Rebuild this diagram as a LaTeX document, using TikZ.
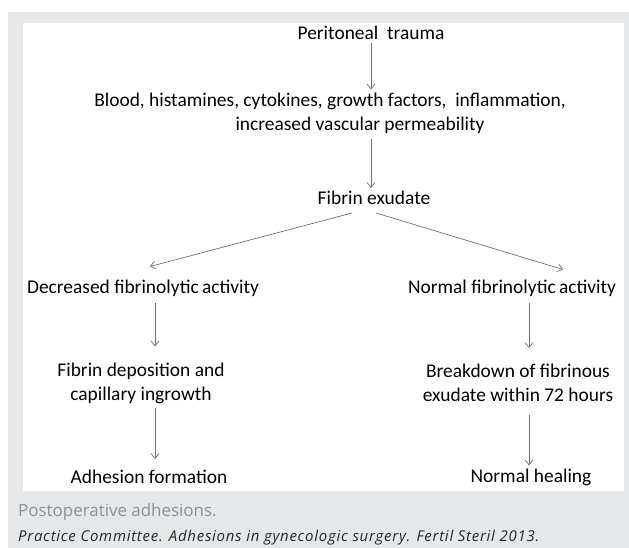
\documentclass[tikz,border=0pt]{standalone}
\usepackage{fontspec}
\setmainfont{Carlito}
\newfontfamily\capfont{Open Sans}
\newfontfamily\citefont[LetterSpace=5]{Open Sans}
\usetikzlibrary{arrows.meta,calc}

\definecolor{PanelGray}{HTML}{E6E7E8}
\definecolor{CapGray}{HTML}{909090}
\definecolor{ArrowGray}{HTML}{707070}

\begin{document}
\begin{tikzpicture}[
  x=1bp, y=-1bp,
  stage/.style={align=center, inner sep=3pt, text=black,
    font=\fontsize{19.5}{24}\selectfont},
  arrow/.style={-{Straight Barb[length=5pt,width=8pt]}, line width=0.7pt, draw=ArrowGray}
]
\useasboundingbox (0,0) rectangle (629,548);
\fill[PanelGray] (8,12) rectangle (629,548);
\fill[white] (23,23) rectangle (624,491);

% main chain
\node[stage] (trauma) at (371,33) {Peritoneal\ \ trauma};
\node[stage] (mediators) at (360,113)
  {Blood, histamines, cytokines, growth factors,\ \ inflammation,\hspace*{60bp}\\increased vascular permeability};
\node[stage] (exudate) at (374,198) {Fibrin exudate};

% two branches
\node[stage] (decreased) at (143,288) {Decreased fibrinolytic\,activity};
\node[stage] (normal) at (512,288) {Normal fibrinolytic\,activity};
\node[stage] (deposition) at (141,383) {Fibrin deposition and\\capillary ingrowth};
\node[stage] (breakdown) at (518,383) {Breakdown of fibrinous\\exudate within 72 hours};
\node[stage] (adhesion) at (149,477) {Adhesion formation};
\node[stage] (healing) at (531,477) {Normal healing};

\draw[arrow] (trauma.south) -- (trauma.south |- mediators.north);
\draw[arrow] ($(mediators.south -| trauma.south)+(0,3)$) -- (exudate.north -| trauma.south);
\draw[arrow] ($(exudate.south)+(-22,5)$) -- ($(decreased.north)+(7,-10)$);
\draw[arrow] ($(exudate.south)+(2,5)$) -- ($(normal.north)+(51,-7)$);

\draw[arrow] ($(decreased.south)+(12,4)$) -- ($(decreased.south |- deposition.north)+(12,-13)$);
\draw[arrow] ($(normal.south)+(17,4)$) -- ($(normal.south |- breakdown.north)+(17,-13)$);
\draw[arrow] ($(deposition.south)+(14,1)$) -- ($(deposition.south |- adhesion.north)+(14,-8)$);
\draw[arrow] ($(breakdown.south)+(11,10)$) -- ($(breakdown.south |- healing.north)+(11,0)$);

% caption below the panel
\node[anchor=west, inner sep=0pt, text=CapGray, font=\capfont\fontsize{17}{19}\selectfont]
  (caption) at (18,512) {Postoperative adhesions.};
\node[anchor=west, inner sep=0pt, text=black!85, font=\citefont\itshape\fontsize{15}{17}\selectfont]
  (source) at (18,538) {Practice Committee. Adhesions in gynecologic surgery. Fertil Steril 2013.};
\end{tikzpicture}
\end{document}
